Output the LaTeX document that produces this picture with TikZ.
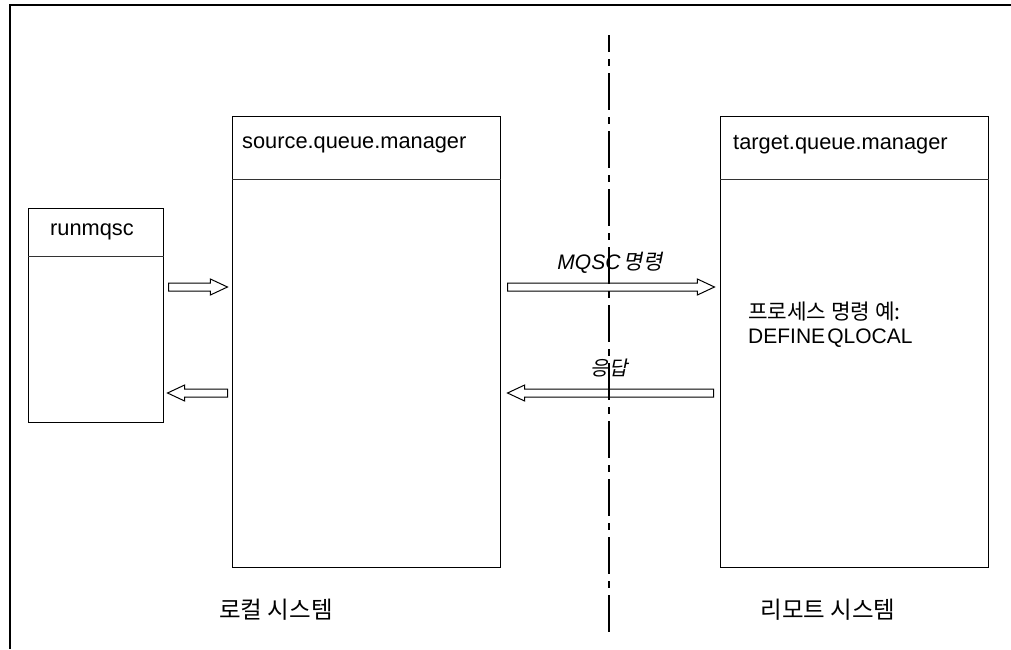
\documentclass[tikz,border=0pt]{standalone}
\usepackage{fontspec}
\setmainfont{Liberation Sans}
\newfontfamily\kr{Noto Sans CJK KR}
\newfontfamily\krit{Noto Sans CJK KR}[FakeSlant=0.2]
\usetikzlibrary{shapes.arrows}
\tikzset{
  frame/.style={line width=1.4pt},
  box/.style={draw, line width=1.3pt, anchor=north west, inner sep=0pt},
  divider/.style={line width=1pt, draw=black!80},
  title/.style={anchor=west, inner sep=0pt, font=\fontsize{21.8}{24}\selectfont},
  blockarrow/.style={single arrow, draw, line width=1pt, inner sep=3.5pt,
    minimum width=15pt, single arrow head extend=4pt,
    single arrow tip angle=50, single arrow head indent=0pt, anchor=tail},
  lbl/.style={inner sep=0pt, font=\fontsize{20}{24}\selectfont},
  syslbl/.style={inner sep=0pt, font=\fontsize{23.5}{26}\selectfont\kr},
  sysline/.style={line width=1.5pt, dash pattern=on 37pt off 7pt on 7pt off 7pt, dash phase=20pt},
}
\begin{document}
\begin{tikzpicture}[x=1pt, y=-1pt]
\useasboundingbox (0,0) rectangle (1011,649);

% outer frame (top and left edges)
\draw[frame] (1011,5) -- (10,5) -- (10,649);

% system boundary
\coordinate (bt) at (609,35);
\coordinate (bb) at (609,638);
\draw[sysline] (bt) -- (bb);

% runmqsc
\node[box, minimum width=135pt, minimum height=214pt] (rq) at (28,208) {};
\draw[divider] (rq.west |- 0,256) -- (rq.east |- 0,256);
\node[title] (rqt) at (50,232) {runmqsc};

% source queue manager
\node[box, minimum width=268pt, minimum height=451pt] (src) at (232,116) {};
\draw[divider] (src.west |- 0,179) -- (src.east |- 0,179);
\node[title] (srct) at (242,145) {source.queue.manager};

% target queue manager
\node[box, minimum width=268pt, minimum height=451pt] (tgt) at (720,116) {};
\draw[divider] (tgt.west |- 0,179) -- (tgt.east |- 0,179);
\node[title] (tgtt) at (733,145) {target.queue.manager};

% block arrows
\node[blockarrow, minimum height=59pt] (a1) at (168,287) {};
\node[blockarrow, minimum height=60pt, shape border rotate=180] (a2) at (228,393) {};
\node[blockarrow, minimum height=207pt] (a3) at (507,287) {};
\node[blockarrow, minimum height=206pt, shape border rotate=180] (a4) at (714,393) {};

% arrow labels
\node[lbl] (l1) at (610,263) {\fontsize{21}{24}\selectfont\itshape MQSC\,{\krit 명령}};
\node[lbl] (l2) at (609,368) {\krit 응답};

% processing note
\node[lbl, anchor=west] (p1) at (748,312) {\fontsize{21.3}{24}\selectfont\kr 프로세스 명령 예:};
\node[lbl, anchor=west] (p2) at (748,338) {\fontsize{21}{24}\selectfont DEFINE\hspace{0.1em}QLOCAL};

% system names
\node[syslbl] (s1) at (276,610) {로컬 시스템};
\node[syslbl] (s2) at (828,610) {리모트 시스템};
\end{tikzpicture}
\end{document}
